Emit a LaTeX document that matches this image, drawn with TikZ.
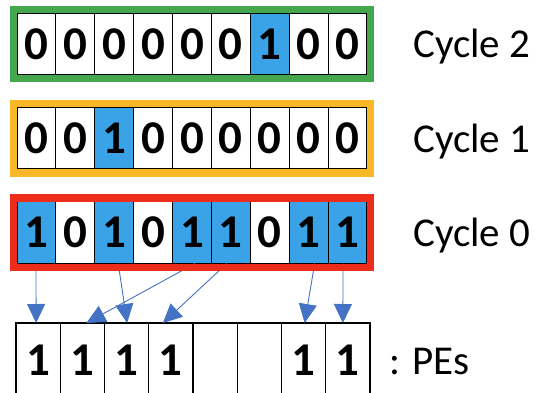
\documentclass[tikz,border=0pt]{standalone}
\usepackage{fontspec}
\setmainfont{Carlito}
\usetikzlibrary{arrows.meta,calc}
\definecolor{cellblue}{RGB}{58,162,230}
\definecolor{framegreen}{RGB}{68,166,77}
\definecolor{frameyellow}{RGB}{250,184,40}
\definecolor{framered}{RGB}{238,44,28}
\definecolor{arrowblue}{RGB}{68,114,196}
\begin{document}
\begin{tikzpicture}[x=1pt,y=-1pt,
  cellbox/.style={draw=black,line width=1.2pt,minimum width=38.89pt,minimum height=62pt,
    inner sep=0pt,outer sep=0pt,anchor=north west,font=\fontsize{47}{52}\selectfont\bfseries},
  v0/.style={fill=white},
  v1/.style={fill=cellblue},
  pebox/.style={draw=black,line width=1.2pt,minimum width=44.25pt,minimum height=74pt,
    inner sep=0pt,outer sep=0pt,anchor=north west,font=\fontsize{47}{52}\selectfont\bfseries},
  frame/.style={line width=7.5pt},
  lbl/.style={anchor=base west,inner sep=0pt,font=\fontsize{41}{48}\selectfont},
  arr/.style={draw=arrowblue,line width=0.9pt,
    -{Triangle[width=18pt,length=19pt,fill=arrowblue]}}
]
\useasboundingbox (0,0) rectangle (538,392);
\clip (0,0) rectangle (538,392);
% Cycle 2 row
\foreach \v [count=\i from 0] in {0,0,0,0,0,0,1,0,0}
  \node[cellbox,v\v] (c2-\i) at (17+38.89*\i,13) {\v};
% Cycle 1 row
\foreach \v [count=\i from 0] in {0,0,1,0,0,0,0,0,0}
  \node[cellbox,v\v] (c1-\i) at (17+38.89*\i,107) {\v};
% Cycle 0 row
\foreach \v [count=\i from 0] in {1,0,1,0,1,1,0,1,1}
  \node[cellbox,v\v] (c0-\i) at (17+38.89*\i,201.5) {\v};
% PE row
\foreach \v [count=\i from 0] in {1,1,1,1,{},{},1,1}
  \node[pebox] (p\i) at (16+44.25*\i,323) {\v};
% arrows
\draw[arr] ($(c0-0.south)+(-0.5,0)$) -- ($(p0.north)+(-2,0)$);
\draw[arr] ($(c0-2.south)+(4,0)$) -- ($(p2.north)+(0.5,0)$);
\draw[arr] ($(c0-4.south)+(3,0)$) -- ($(p1.north)+(4,0)$);
\draw[arr] ($(c0-5.south)+(-4,0)$) -- ($(p3.north)+(-8,0)$);
\draw[arr] ($(c0-7.south)+(6,0)$) -- ($(p6.north)+(1,0)$);
\draw[arr] ($(c0-8.south)+(-4.5,0)$) -- ($(p7.north)+(-5,0)$);
% frames
\draw[frame,framegreen] ($(c2-0.north west)+(-3.5,-3.5)$) rectangle ($(c2-8.south east)+(3.5,3.5)$);
\draw[frame,frameyellow] ($(c1-0.north west)+(-3.5,-3.5)$) rectangle ($(c1-8.south east)+(3.5,4)$);
\draw[frame,framered] ($(c0-0.north west)+(-3.5,-3.5)$) rectangle ($(c0-8.south east)+(3.5,4)$);
% labels
\node[lbl] (l2) at (413,57) {Cycle 2};
\node[lbl] (l1) at (413,152) {Cycle 1};
\node[lbl] (l0) at (413,246) {Cycle 0};
\node[lbl] (lp) at (389,374) {: PEs};
\end{tikzpicture}
\end{document}
